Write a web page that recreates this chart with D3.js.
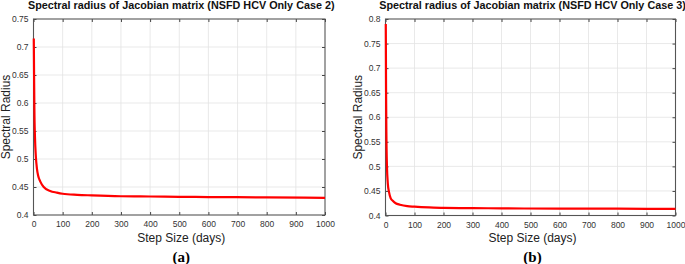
<!DOCTYPE html>
<html>
<head>
<meta charset="utf-8">
<script src="https://cdn.jsdelivr.net/npm/d3@7"></script>
<style>
  body { margin: 0; background: #fff; }
  svg { display: block; }
</style>
</head>
<body>
<div id="chart"></div>
<script>
// Step sizes (days) and spectral radius values
const stepsA = [1, 2, 3, 5, 8, 12, 16, 23, 35, 57, 80, 100, 150, 200, 300, 400, 500, 600, 800, 1000];
const radiusA = [0.715, 0.65, 0.59, 0.54, 0.505, 0.482, 0.47, 0.46, 0.45, 0.443, 0.44, 0.438, 0.436, 0.435, 0.4335, 0.433, 0.4325, 0.432, 0.4315, 0.4305];

const stepsB = [1, 2, 3, 5, 8, 12, 18, 25, 35, 50, 75, 100, 150, 200, 300, 400, 600, 800, 1000];
const radiusB = [0.79, 0.65, 0.57, 0.5, 0.465, 0.448, 0.435, 0.43, 0.425, 0.422, 0.419, 0.418, 0.4165, 0.4155, 0.415, 0.4145, 0.414, 0.4138, 0.4135];

const xTicks = [0, 100, 200, 300, 400, 500, 600, 700, 800, 900, 1000];
const yTicksA = [0.4, 0.45, 0.5, 0.55, 0.6, 0.65, 0.7, 0.75];
const yTicksB = [0.4, 0.45, 0.5, 0.55, 0.6, 0.65, 0.7, 0.75, 0.8];

const titleA = 'Spectral radius of Jacobian matrix (NSFD HCV Only Case 2)';
const titleB = 'Spectral radius of Jacobian matrix (NSFD HCV Only Case 3)';

const sans = '"Liberation Sans", Arial, sans-serif';
const serif = '"Liberation Serif", "DejaVu Serif", serif';

const svg = d3.select('#chart')
  .append('svg')
  .attr('width', 685)
  .attr('height', 264);

function drawPanel(cfg) {
  const { left, right, top, bottom, steps, values, yTicks, title, tag } = cfg;

  const x = d3.scaleLinear().domain([0, 1000]).range([left, right]);
  const y = d3.scaleLinear().domain([yTicks[0], yTicks[yTicks.length - 1]]).range([bottom, top]);

  const g = svg.append('g');

  // grid
  g.append('g').selectAll('line')
    .data(xTicks.slice(1, -1))
    .enter().append('line')
    .attr('x1', d => x(d)).attr('x2', d => x(d))
    .attr('y1', top).attr('y2', bottom)
    .style('stroke', '#e3e3e3').style('stroke-width', 0.8);
  g.append('g').selectAll('line')
    .data(yTicks.slice(1, -1))
    .enter().append('line')
    .attr('x1', left).attr('x2', right)
    .attr('y1', d => y(d)).attr('y2', d => y(d))
    .style('stroke', '#e3e3e3').style('stroke-width', 0.8);

  // axes (ticks inward, mirrored on top/right like a matlab box)
  const fmt = d => String(+d.toFixed(2));
  const axisStyle = sel => {
    sel.select('.domain').remove();
    sel.selectAll('line').style('stroke', '#444');
    sel.selectAll('text')
      .style('font-family', sans)
      .style('font-size', '8.5px')
      .style('fill', '#333');
  };

  g.append('g')
    .attr('transform', `translate(0,${bottom})`)
    .call(d3.axisBottom(x).tickValues(xTicks).tickFormat(d3.format('d')).tickSizeInner(-3).tickSizeOuter(0).tickPadding(6))
    .call(axisStyle);
  g.append('g')
    .attr('transform', `translate(${left},0)`)
    .call(d3.axisLeft(y).tickValues(yTicks).tickFormat(fmt).tickSizeInner(-3).tickSizeOuter(0).tickPadding(5))
    .call(axisStyle);
  g.append('g')
    .attr('transform', `translate(0,${top})`)
    .call(d3.axisTop(x).tickValues(xTicks).tickFormat('').tickSizeInner(-3).tickSizeOuter(0))
    .call(axisStyle);
  g.append('g')
    .attr('transform', `translate(${right},0)`)
    .call(d3.axisRight(y).tickValues(yTicks).tickFormat('').tickSizeInner(-3).tickSizeOuter(0))
    .call(axisStyle);

  // box
  g.append('rect')
    .attr('x', left).attr('y', top)
    .attr('width', right - left).attr('height', bottom - top)
    .style('fill', 'none').style('stroke', '#555').style('stroke-width', 1.1);

  // curve
  const pts = steps.map((s, i) => [s, values[i]]);
  g.append('path')
    .datum(pts)
    .attr('d', d3.line().x(d => x(d[0])).y(d => y(d[1])).curve(d3.curveMonotoneX))
    .style('fill', 'none')
    .style('stroke', '#ff0000')
    .style('stroke-width', 2.2);

  const cx = (left + right) / 2;

  g.append('text')
    .attr('x', cx + 2).attr('y', 9)
    .attr('text-anchor', 'middle')
    .style('font-family', sans)
    .style('font-size', '10.8px')
    .style('font-weight', 'bold')
    .style('fill', '#111')
    .text(title);

  g.append('text')
    .attr('x', cx + 2).attr('y', 242)
    .attr('text-anchor', 'middle')
    .style('font-family', sans)
    .style('font-size', '12px')
    .style('fill', '#222')
    .text('Step Size (days)');

  g.append('text')
    .attr('transform', `translate(${left - 24},${(top + bottom) / 2}) rotate(-90)`)
    .attr('text-anchor', 'middle')
    .style('font-family', sans)
    .style('font-size', '12px')
    .style('fill', '#222')
    .text('Spectral Radius');

  g.append('text')
    .attr('x', cx + 2).attr('y', 262)
    .attr('text-anchor', 'middle')
    .style('font-family', serif)
    .style('font-size', '15px')
    .style('font-weight', 'bold')
    .style('fill', '#000')
    .text(tag);
}

drawPanel({ left: 33.5, right: 325, top: 19, bottom: 215, steps: stepsA, values: radiusA, yTicks: yTicksA, title: titleA, tag: '(a)' });
drawPanel({ left: 385.5, right: 675.5, top: 19, bottom: 215.5, steps: stepsB, values: radiusB, yTicks: yTicksB, title: titleB, tag: '(b)' });
</script>
</body>
</html>
